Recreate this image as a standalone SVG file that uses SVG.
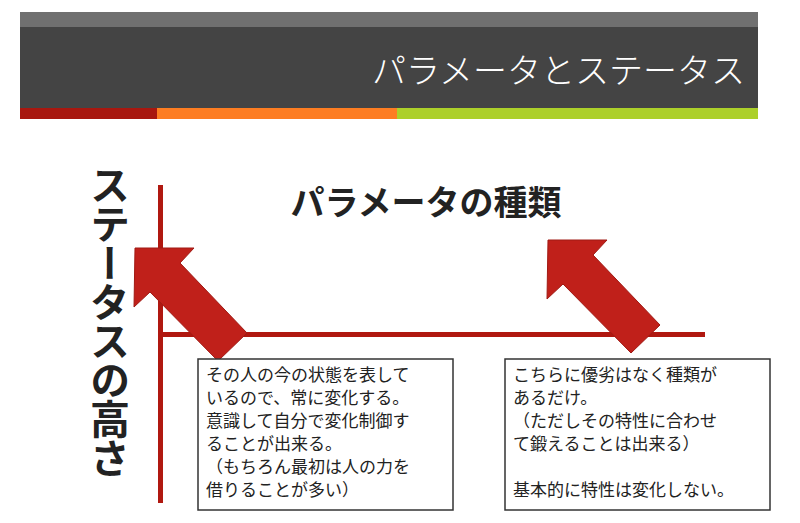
<svg xmlns="http://www.w3.org/2000/svg" width="800" height="523" viewBox="0 0 800 523">
<defs><style>
text{font-family:"Noto Sans CJK JP","Liberation Sans",sans-serif}
.b{font-size:17px;fill:#222}
.box{fill:#fff;stroke:#333;stroke-width:1.5}
.ar{fill:#c0201a;stroke:#a01a14;stroke-width:1}
</style>
<polygon id="arw" class="ar" points="135,248 194,248 180,263 247,333 218,361 150,292 134,307"/>
</defs>
<rect width="800" height="523" fill="#fff"/>
<g id="header">
<rect x="20" y="12" width="738" height="15" fill="#707070"/>
<rect x="20" y="27" width="738" height="81" fill="#444"/>
<rect x="20" y="108" width="137" height="11" fill="#a8170f"/>
<rect x="157" y="108" width="240" height="11" fill="#fd7d22"/>
<rect x="397" y="108" width="361" height="11" fill="#acd02a"/>
<text x="745" y="83" text-anchor="end" font-size="34" fill="#fff" font-weight="300">パラメータとステータス</text>
</g>
<g id="axes">
<rect x="158" y="185" width="5" height="318" fill="#b01810"/>
<rect x="158" y="332" width="547" height="5" fill="#b01810"/>
</g>
<g id="ylabel"><text x="110" y="165" font-size="40" font-weight="bold" fill="#222" style="writing-mode:vertical-rl" letter-spacing="-1">ステータスの高さ</text></g>
<g id="title"><text x="426" y="215" text-anchor="middle" font-size="34" font-weight="bold" fill="#222">パラメータの種類</text></g>
<g id="connectors">
<use href="#arw"/>
<use href="#arw" transform="translate(413,-8)"/>
</g>
<g id="box1">
<rect class="box" x="198" y="359" width="255" height="151"/>
<text class="b" x="206" y="381">その人の今の状態を表して</text>
<text class="b" x="206" y="404">いるので、常に変化する。</text>
<text class="b" x="206" y="427">意識して自分で変化制御す</text>
<text class="b" x="206" y="450">ることが出来る。</text>
<text class="b" x="206" y="473">（もちろん最初は人の力を</text>
<text class="b" x="206" y="496">借りることが多い）</text>
</g>
<g id="box2">
<rect class="box" x="505" y="359" width="265" height="151"/>
<text class="b" x="513" y="381">こちらに優劣はなく種類が</text>
<text class="b" x="513" y="404">あるだけ。</text>
<text class="b" x="513" y="427">（ただしその特性に合わせ</text>
<text class="b" x="513" y="450">て鍛えることは出来る）</text>
<text class="b" x="513" y="496">基本的に特性は変化しない。</text>
</g>
</svg>
